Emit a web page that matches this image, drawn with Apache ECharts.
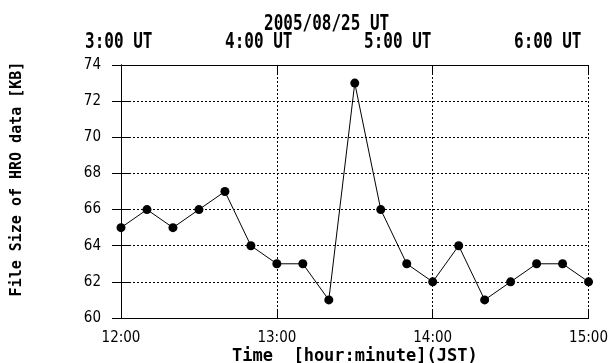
<!DOCTYPE html>
<html>
<head>
<meta charset="utf-8">
<script src="https://cdn.jsdelivr.net/npm/echarts@6/dist/echarts.min.js"></script>
<style>
  html, body { margin: 0; padding: 0; background: #fff; }
  #chart { width: 611px; height: 363px; }
</style>
</head>
<body>
<div id="chart"></div>
<script>
// Observation times (JST) and HRO data file sizes in KB
const times = ['12:00','12:10','12:20','12:30','12:40','12:50','13:00','13:10','13:20','13:30',
               '13:40','13:50','14:00','14:10','14:20','14:30','14:40','14:50','15:00'];
const sizes = [65, 66, 65, 66, 67, 64, 63, 63, 61, 73, 66, 63, 62, 64, 61, 62, 63, 63, 62];

// Upper annotation: date and UT hours
const dateLabel = '2005/08/25 UT';
const utLabels = ['3:00 UT', '4:00 UT', '5:00 UT', '6:00 UT'];
const utLeft = [85, 225, 364, 514];

const toMinutes = s => { const [h, m] = s.split(':').map(Number); return (h - 12) * 60 + m; };
const fmt = v => (12 + Math.floor(v / 60)) + ':' + String(v % 60).padStart(2, '0');

const narrow = '"Liberation Sans Narrow", "DejaVu Sans Condensed", "Liberation Sans", sans-serif';
const mono = '"DejaVu Sans Mono", "Liberation Mono", monospace';

const dotted = { color: '#000', width: 1, type: [2, 2] };
const frameLine = { show: true, lineStyle: { color: '#000', width: 1 } };
const inTick = { show: true, inside: true, length: 9, lineStyle: { color: '#000', width: 1 } };

// Tall bold text placed by its top-left corner
const tallText = (text, x, y, size, sy) => ({
  type: 'text', x: x, y: y, scaleY: sy,
  style: { text: text, font: 'bold ' + size + 'px ' + mono, fill: '#000', verticalAlign: 'top' }
});

const chart = echarts.init(document.getElementById('chart'), null, { renderer: 'canvas' });
chart.setOption({
  animation: false,
  backgroundColor: '#fff',
  grid: { left: 121, right: 15, top: 65, bottom: 45 },
  xAxis: [
    {
      type: 'value', min: 0, max: 180, interval: 60, position: 'bottom',
      axisLine: frameLine, axisTick: inTick,
      splitLine: { show: true, lineStyle: dotted },
      axisLabel: { formatter: fmt, color: '#000', fontFamily: narrow, fontSize: 15, margin: 13 }
    },
    {
      type: 'value', min: 0, max: 180, interval: 60, position: 'top',
      axisLine: frameLine, axisTick: inTick, axisLabel: { show: false }, splitLine: { show: false }
    }
  ],
  yAxis: [
    {
      type: 'value', min: 60, max: 74, interval: 2, position: 'left',
      axisLine: frameLine, axisTick: inTick,
      splitLine: { show: true, lineStyle: dotted },
      axisLabel: { color: '#000', fontFamily: narrow, fontSize: 15, margin: 20 }
    },
    {
      type: 'value', min: 60, max: 74, interval: 2, position: 'right',
      axisLine: frameLine, axisTick: inTick, axisLabel: { show: false }, splitLine: { show: false }
    }
  ],
  series: [{
    type: 'line',
    data: times.map((t, i) => [toMinutes(t), sizes[i]]),
    symbol: 'circle', symbolSize: 9,
    lineStyle: { color: '#000', width: 1 },
    itemStyle: { color: '#000' },
    clip: false
  }],
  graphic: [
    tallText(dateLabel, 264, 14, 16, 1.3),
    ...utLabels.map((t, i) => tallText(t, utLeft[i], 32, 16, 1.35)),
    tallText('Time  [hour:minute](JST)', 232, 348, 17, 1.0),
    {
      type: 'text', x: 17, y: 179, rotation: Math.PI / 2,
      style: { text: 'File Size of HRO data [KB]', font: 'bold 15px ' + mono, fill: '#000',
               align: 'center', verticalAlign: 'middle' }
    }
  ]
});
</script>
</body>
</html>
